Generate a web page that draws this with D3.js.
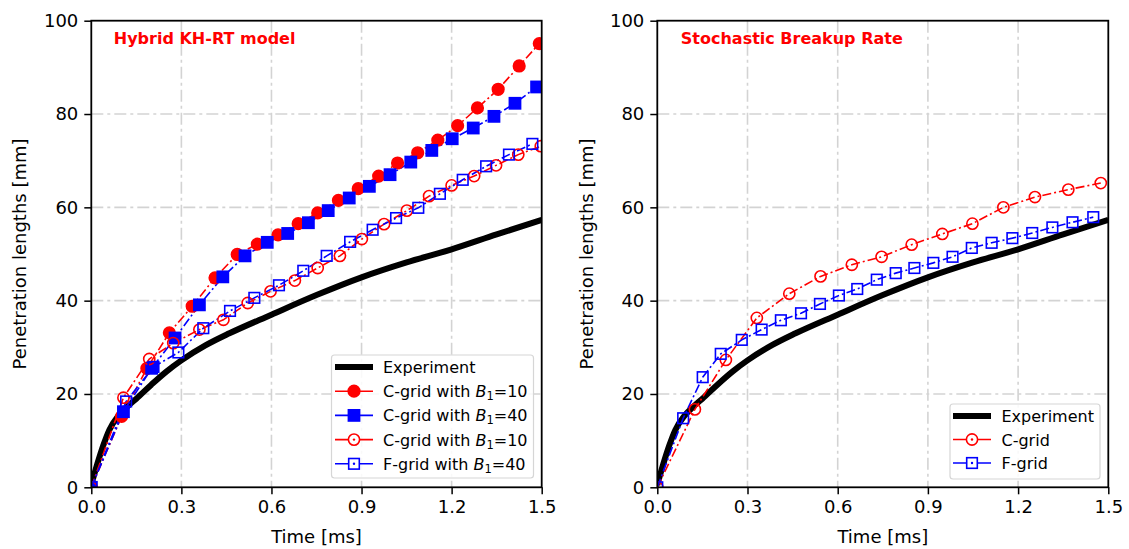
<!DOCTYPE html>
<html>
<head>
<meta charset="utf-8">
<script src="https://cdn.jsdelivr.net/npm/d3@7"></script>
<style>
  body { margin: 0; background: #fff; }
  svg { display: block; font-family: "DejaVu Sans", sans-serif; }
</style>
</head>
<body>
<svg id="chart" width="1129" height="549"></svg>
<script>
// ---------- data ----------
const xTicks = [0.0, 0.3, 0.6, 0.9, 1.2, 1.5];
const yTicks = [0, 20, 40, 60, 80, 100];

const expT = [0, 0.02, 0.04, 0.06, 0.09, 0.12, 0.15, 0.2, 0.25, 0.3, 0.38, 0.46, 0.6, 0.75, 0.9, 1.05, 1.2, 1.35, 1.5];
const expY = [0.5, 5, 9, 12.3, 15.3, 17.3, 19, 22.0, 24.8, 27.2, 30.4, 33.0, 37, 41.2, 45.0, 48.2, 51.0, 54.2, 57.3];

// Left panel: Hybrid KH-RT model
const cB10T = [0, 0.101, 0.185, 0.26, 0.336, 0.412, 0.486, 0.553, 0.622, 0.689, 0.754, 0.823, 0.889, 0.957, 1.02, 1.087, 1.154, 1.22, 1.286, 1.355, 1.425, 1.492];
const cB10Y = [0, 15.2, 25.5, 33.1, 38.8, 44.9, 49.9, 52.1, 54.1, 56.5, 58.8, 61.5, 64.0, 66.7, 69.5, 71.7, 74.4, 77.5, 81.3, 85.3, 90.3, 95.1];

const cB40T = [0, 0.107, 0.201, 0.279, 0.36, 0.438, 0.512, 0.586, 0.654, 0.723, 0.789, 0.859, 0.926, 0.995, 1.064, 1.134, 1.202, 1.272, 1.341, 1.411, 1.483];
const cB40Y = [0, 16.2, 25.5, 32.0, 39.1, 45.1, 49.6, 52.5, 54.4, 56.7, 59.3, 62.0, 64.5, 67.0, 69.7, 72.2, 74.7, 77.0, 79.5, 82.3, 85.8];

const c2B10T = [0, 0.107, 0.193, 0.273, 0.36, 0.44, 0.521, 0.597, 0.678, 0.754, 0.828, 0.901, 0.975, 1.051, 1.125, 1.2, 1.275, 1.348, 1.422, 1.497];
const c2B10Y = [0, 19.2, 27.5, 30.9, 33.8, 35.9, 39.5, 42.0, 44.3, 47.0, 49.6, 53.2, 56.4, 59.3, 62.4, 64.7, 66.7, 69.0, 71.3, 73.1];

const fB40T = [0, 0.116, 0.207, 0.29, 0.373, 0.462, 0.543, 0.625, 0.706, 0.784, 0.862, 0.937, 1.015, 1.089, 1.161, 1.237, 1.315, 1.391, 1.469];
const fB40Y = [0, 18.4, 25.8, 28.9, 34.1, 37.8, 40.6, 43.3, 46.4, 49.6, 52.6, 55.2, 57.7, 59.9, 62.9, 65.9, 68.8, 71.3, 73.6];

// Right panel: Stochastic Breakup Rate
const sCT = [0, 0.125, 0.228, 0.331, 0.439, 0.543, 0.647, 0.746, 0.846, 0.948, 1.048, 1.151, 1.256, 1.367, 1.475];
const sCY = [0, 16.7, 27.3, 36.3, 41.5, 45.2, 47.7, 49.4, 52.0, 54.3, 56.5, 60.0, 62.2, 63.8, 65.2];

const sFT = [0, 0.086, 0.151, 0.211, 0.281, 0.347, 0.411, 0.478, 0.541, 0.604, 0.665, 0.73, 0.793, 0.855, 0.918, 0.982, 1.046, 1.112, 1.181, 1.247, 1.314, 1.381, 1.45];
const sFY = [0, 14.8, 23.6, 28.6, 31.6, 33.8, 35.8, 37.3, 39.3, 41.1, 42.5, 44.5, 45.9, 47.0, 48.1, 49.4, 51.3, 52.4, 53.4, 54.5, 55.7, 56.8, 57.9];

const zip = (ts, ys) => ts.map((t, i) => [t, ys[i]]);

const panels = [
  {
    id: "L", x0: 91.3, x1: 541.7, title: "Hybrid KH-RT model",
    series: [
      {data: zip(cB10T, cB10Y), color: "#ff0000", marker: "circle", filled: true, label: ["C-grid with ", "10"]},
      {data: zip(cB40T, cB40Y), color: "#0000ff", marker: "square", filled: true, label: ["C-grid with ", "40"]},
      {data: zip(c2B10T, c2B10Y), color: "#ff0000", marker: "circle", filled: false, label: ["C-grid with ", "10"]},
      {data: zip(fB40T, fB40Y), color: "#0000ff", marker: "square", filled: false, label: ["F-grid with ", "40"]}
    ],
    legend: {x: 331.5, y: 355, w: 202, h: 123, rowY0: 367, rowDy: 24.2, lineX0: 335, lineX1: 373, textX: 383}
  },
  {
    id: "R", x0: 657.3, x1: 1108.3, title: "Stochastic Breakup Rate",
    series: [
      {data: zip(sCT, sCY), color: "#ff0000", marker: "circle", filled: false, label: ["C-grid"]},
      {data: zip(sFT, sFY), color: "#0000ff", marker: "square", filled: false, label: ["F-grid"]}
    ],
    legend: {x: 950, y: 404, w: 150, h: 75, rowY0: 416, rowDy: 23.5, lineX0: 953, lineX1: 991, textX: 1001.5}
  }
];

const yTop = 20.7, yBot = 487.3;
const svg = d3.select("#chart");

panels.forEach(p => {
  const x = d3.scaleLinear().domain([0, 1.5]).range([p.x0, p.x1]);
  const y = d3.scaleLinear().domain([0, 100]).range([yBot, yTop]);
  const g = svg.append("g");

  g.append("clipPath").attr("id", "clip" + p.id)
    .append("rect").attr("x", p.x0).attr("y", yTop).attr("width", p.x1 - p.x0).attr("height", yBot - yTop);

  // grid
  const grid = g.append("g").attr("stroke", "#d3d3d3").attr("stroke-width", 1.6)
    .attr("stroke-dasharray", "12,4,3,4");
  xTicks.slice(1, -1).forEach(t => grid.append("line")
    .attr("x1", x(t)).attr("x2", x(t)).attr("y1", yTop).attr("y2", yBot));
  yTicks.slice(1, -1).forEach(v => grid.append("line")
    .attr("x1", p.x0).attr("x2", p.x1).attr("y1", y(v)).attr("y2", y(v)));

  const plot = g.append("g").attr("clip-path", `url(#clip${p.id})`);

  // experiment
  plot.append("path").datum(zip(expT, expY))
    .attr("fill", "none").attr("stroke", "#000").attr("stroke-width", 6)
    .attr("stroke-linejoin", "round")
    .attr("d", d3.line().curve(d3.curveMonotoneX).x(d => x(d[0])).y(d => y(d[1])));

  const line = d3.line().x(d => x(d[0])).y(d => y(d[1]));
  p.series.forEach(s => {
    plot.append("path").datum(s.data)
      .attr("fill", "none").attr("stroke", s.color).attr("stroke-width", 1.6)
      .attr("stroke-dasharray", "9,3,2,3")
      .attr("d", line);
  });
  p.series.forEach(s => {
    const mk = plot.append("g");
    s.data.forEach(d => drawMarker(mk, x(d[0]), y(d[1]), s));
  });

  // axes
  const xAxis = d3.axisBottom(x).tickValues(xTicks).tickFormat(d3.format(".1f")).tickSize(7).tickPadding(6);
  const yAxis = d3.axisLeft(y).tickValues(yTicks).tickFormat(d3.format("d")).tickSize(7).tickPadding(6);
  const gx = g.append("g").attr("transform", `translate(0,${yBot})`).call(xAxis);
  const gy = g.append("g").attr("transform", `translate(${p.x0},0)`).call(yAxis);
  [gx, gy].forEach(a => {
    a.select(".domain").remove();
    a.selectAll(".tick line").attr("stroke", "#000").attr("stroke-width", 1.5);
    a.selectAll(".tick text").attr("font-size", 18).attr("font-family", "DejaVu Sans").attr("fill", "#000");
  });

  // spines
  g.append("rect").attr("x", p.x0).attr("y", yTop).attr("width", p.x1 - p.x0).attr("height", yBot - yTop)
    .attr("fill", "none").attr("stroke", "#000").attr("stroke-width", 1.8);

  // labels
  g.append("text").attr("x", (p.x0 + p.x1) / 2).attr("y", 543).attr("text-anchor", "middle")
    .attr("font-size", 18).text("Time [ms]");
  const ylx = p.id === "L" ? 26 : 593;
  g.append("text").attr("transform", `translate(${ylx},${(yTop + yBot) / 2}) rotate(-90)`)
    .attr("text-anchor", "middle").attr("font-size", 18).text("Penetration lengths [mm]");

  // title
  g.append("text").attr("x", p.x0 + (p.id === "L" ? 22.5 : 23.5)).attr("y", 44)
    .attr("font-size", 16).attr("font-weight", "bold").attr("fill", "#ff0000").text(p.title);

  // legend
  const L = p.legend;
  const lg = g.append("g");
  lg.append("rect").attr("x", L.x).attr("y", L.y).attr("width", L.w).attr("height", L.h)
    .attr("rx", 3).attr("fill", "#fff").attr("fill-opacity", 0.85).attr("stroke", "#d6d6d6").attr("stroke-width", 1.2);
  const rows = [{exp: true, label: ["Experiment"]}].concat(p.series);
  rows.forEach((r, i) => {
    const ry = L.rowY0 + i * L.rowDy;
    if (r.exp) {
      lg.append("line").attr("x1", L.lineX0).attr("x2", L.lineX1).attr("y1", ry).attr("y2", ry)
        .attr("stroke", "#000").attr("stroke-width", 6);
    } else {
      lg.append("line").attr("x1", L.lineX0).attr("x2", L.lineX1).attr("y1", ry).attr("y2", ry)
        .attr("stroke", r.color).attr("stroke-width", 1.6);
      const cx = (L.lineX0 + L.lineX1) / 2;
      drawMarker(lg, cx, ry, r, true);
    }
    const t = lg.append("text").attr("x", L.textX).attr("y", ry + 6).attr("font-size", 16);
    if (r.label.length === 1) {
      t.text(r.label[0]);
    } else {
      t.append("tspan").text(r.label[0]);
      t.append("tspan").attr("font-style", "italic").text("B");
      t.append("tspan").attr("font-size", 11.5).attr("dy", 3).text("1");
      t.append("tspan").attr("dy", -3).text("=" + r.label[1]);
    }
  });
});

function drawMarker(sel, cx, cy, s, legend) {
  if (s.marker === "circle") {
    sel.append("circle").attr("cx", cx).attr("cy", cy).attr("r", s.filled ? 5.8 : 5.6)
      .attr("fill", s.filled ? s.color : (legend ? "#fff" : "none"))
      .attr("stroke", s.color).attr("stroke-width", 1.6);
  } else {
    const h = s.filled ? 5.6 : 5.3;
    sel.append("rect").attr("x", cx - h).attr("y", cy - h).attr("width", 2 * h).attr("height", 2 * h)
      .attr("fill", s.filled ? s.color : (legend ? "#fff" : "none"))
      .attr("stroke", s.color).attr("stroke-width", 1.6);
  }
  if (legend && !s.filled) {
    sel.append("circle").attr("cx", cx).attr("cy", cy).attr("r", 1.2).attr("fill", s.color);
  }
}
</script>
</body>
</html>
